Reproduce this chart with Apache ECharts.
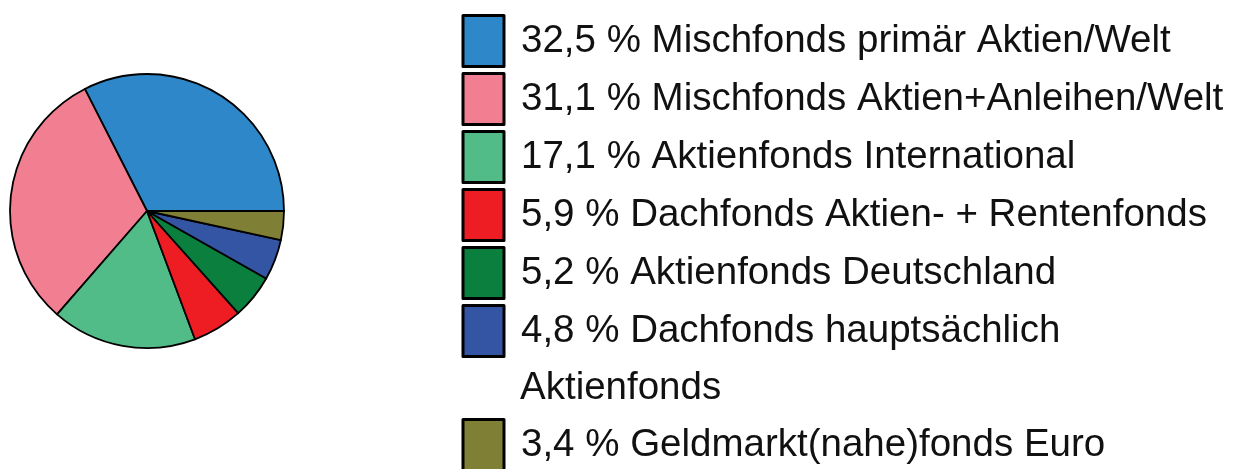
<!DOCTYPE html>
<html>
<head>
<meta charset="utf-8">
<script src="https://cdn.jsdelivr.net/npm/echarts@6/dist/echarts.min.js"></script>
<style>
  html, body { margin: 0; padding: 0; background: #fff; }
  #chart { width: 1234px; height: 469px; }
</style>
</head>
<body>
<div id="chart"></div>
<script>
// Fondsanteile
var names = [
  "Mischfonds primär Aktien/Welt",
  "Mischfonds Aktien+Anleihen/Welt",
  "Aktienfonds International",
  "Dachfonds Aktien- + Rentenfonds",
  "Aktienfonds Deutschland",
  "Dachfonds hauptsächlich",
  "Geldmarkt(nahe)fonds Euro"
];
var values = [32.5, 31.1, 17.1, 5.9, 5.2, 4.8, 3.4];
var colors = ["#2e87c8", "#f27f91", "#52bc88", "#ee1d23", "#0a7f3e", "#3454a4", "#7f7f35"];
var wrapText = "Aktienfonds"; // zweite Zeile vom 6. Eintrag

var pieData = names.map(function (n, i) {
  return { name: n, value: values[i] };
});

function fmt(name) {
  var i = names.indexOf(name);
  return values[i].toFixed(1).replace(".", ",") + " % " + name;
}

var font = "Liberation Sans";
var legendBase = {
  orient: "vertical",
  left: 461.5,
  padding: 0,
  itemWidth: 41,
  itemHeight: 51,
  itemGap: 4,
  icon: "rect",
  selectedMode: false,
  itemStyle: { borderColor: "#000", borderWidth: 3 },
  formatter: fmt,
  textStyle: { fontFamily: font, fontSize: 38.5, color: "#111", padding: [0, 0, 0, 12] }
};

var myChart = echarts.init(document.getElementById("chart"));
myChart.setOption({
  animation: false,
  color: colors,
  legend: [
    Object.assign({}, legendBase, { top: 14, data: names.slice(0, 6) }),
    Object.assign({}, legendBase, { top: 418, data: names.slice(6) })
  ],
  graphic: [
    {
      type: "text",
      x: 520,
      y: 388,
      style: {
        text: wrapText,
        fontFamily: font,
        fontSize: 38.5,
        fill: "#111",
        verticalAlign: "middle"
      }
    }
  ],
  series: [
    {
      type: "pie",
      center: [147, 211],
      radius: 137,
      startAngle: 0,
      clockwise: false,
      avoidLabelOverlap: false,
      label: { show: false },
      labelLine: { show: false },
      emphasis: { disabled: true },
      itemStyle: { borderColor: "#000", borderWidth: 1.8 },
      data: pieData
    }
  ]
});
</script>
</body>
</html>
